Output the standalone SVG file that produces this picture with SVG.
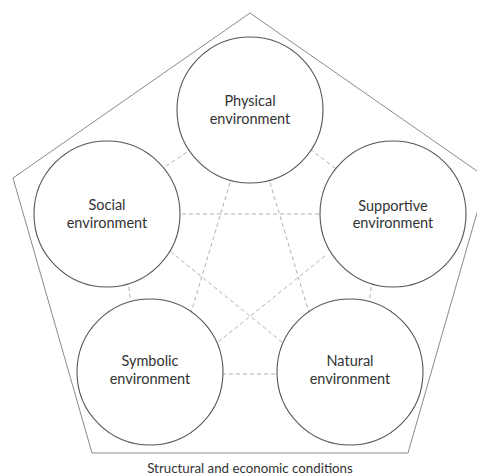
<svg xmlns="http://www.w3.org/2000/svg" width="477" height="475" viewBox="0 0 477 475">
<style>
.frame{fill:none;stroke:#8a8a8a;stroke-width:1}
.node{fill:#ffffff;stroke:#555555;stroke-width:1.1}
.link{stroke:#b0b0b0;stroke-width:1;stroke-dasharray:4 3;fill:none}
.lbl{font-family:Lato,"Open Sans",sans-serif;font-size:14.5px;fill:#333333;text-anchor:middle}
.cap{font-family:Lato,"Open Sans",sans-serif;font-size:13.3px;fill:#333333;text-anchor:middle}
</style>
<rect width="477" height="475" fill="#ffffff"/>
<polygon class="frame" points="250,13 487,178 408,453 92,453 13,178"/>
<g id="connectors">
<line class="link" x1="160" y1="170" x2="190" y2="150"/>
<line class="link" x1="310" y1="149" x2="340" y2="172"/>
<line class="link" x1="128" y1="280" x2="131" y2="304"/>
<line class="link" x1="372" y1="280" x2="369" y2="304"/>
<line class="link" x1="215" y1="374" x2="285" y2="374"/>
<line class="link" x1="175" y1="214" x2="325" y2="214"/>
<line class="link" x1="232" y1="176" x2="190" y2="316"/>
<line class="link" x1="268" y1="176" x2="310" y2="316"/>
<line class="link" x1="165" y1="247" x2="288" y2="347"/>
<line class="link" x1="325" y1="256" x2="212" y2="347"/>
</g>
<g id="physical">
<circle class="node" cx="250" cy="110" r="73"/>
<text class="lbl" x="250" y="106">Physical</text>
<text class="lbl" x="250" y="124">environment</text>
</g>
<g id="social">
<circle class="node" cx="107" cy="214" r="73"/>
<text class="lbl" x="107" y="210">Social</text>
<text class="lbl" x="107" y="228">environment</text>
</g>
<g id="supportive">
<circle class="node" cx="393" cy="214" r="73"/>
<text class="lbl" x="393" y="211">Supportive</text>
<text class="lbl" x="393" y="228">environment</text>
</g>
<g id="symbolic">
<circle class="node" cx="150" cy="372" r="73"/>
<text class="lbl" x="150" y="366">Symbolic</text>
<text class="lbl" x="150" y="384">environment</text>
</g>
<g id="natural">
<circle class="node" cx="350" cy="372" r="73"/>
<text class="lbl" x="350" y="366">Natural</text>
<text class="lbl" x="350" y="384">environment</text>
</g>
<text class="cap" x="250" y="473">Structural and economic conditions</text>
</svg>
